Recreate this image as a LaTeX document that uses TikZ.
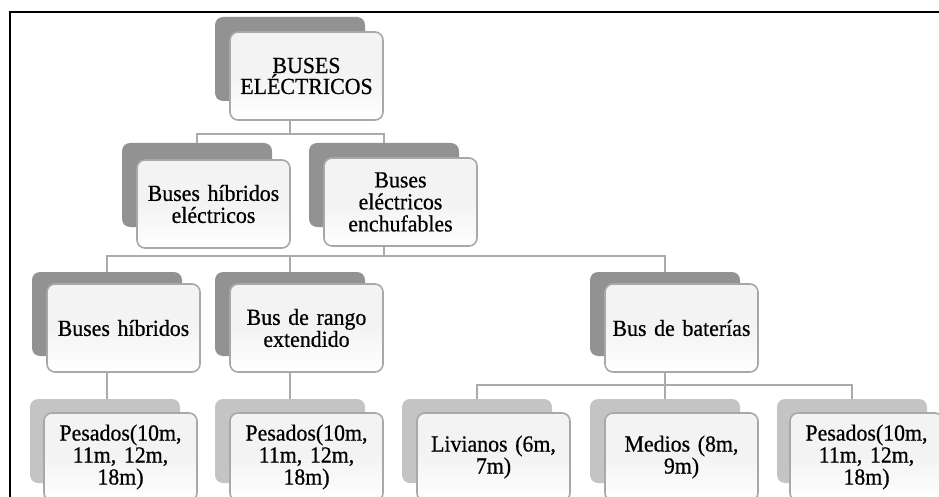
\documentclass[tikz,border=0pt]{standalone}
\usepackage{fontspec}
\setmainfont{Liberation Serif}
\newfontfamily\boxfont[FakeBold=0.6,FakeStretch=0.95]{Liberation Serif}
\definecolor{backdark}{HTML}{929292}
\definecolor{backlight}{HTML}{C4C4C4}
\definecolor{frontedge}{HTML}{A8A8A8}
\definecolor{frontfill}{HTML}{F3F3F3}
\definecolor{linkgray}{HTML}{ABABAB}
\tikzset{
  backbox/.style={rectangle, rounded corners=8pt, minimum width=150pt, minimum height=84pt, inner sep=0pt, fill=backdark},
  backboxlight/.style={backbox, fill=backlight},
  frontbox/.style={rectangle, rounded corners=8pt, minimum width=153pt, minimum height=88pt, inner sep=2pt,
     draw=frontedge, line width=1.6pt, top color=frontfill, bottom color=white, middle color=frontfill,
     align=center, text width=148pt, font=\boxfont\fontsize{23}{22}\selectfont},
  link/.style={draw=linkgray, line width=1.6pt},
  frame/.style={draw=black, line width=2pt}
}
\begin{document}
\begin{tikzpicture}[x=1pt,y=-1pt]
\useasboundingbox (0,0) rectangle (939,497);
\clip (0,0) rectangle (939,497);
% level 1
\node[backbox] (rootb) at (290,59) {};
\node[frontbox, font=\boxfont\fontsize{23}{17}\selectfont] (root) at (306.5,76) {BUSES\\ELÉCTRICOS};
% level 2
\node[backbox] (hybb) at (197,185) {};
\node[frontbox] (hyb) at (213.5,204) {Buses híbridos\\eléctricos};
\node[backbox] (plugb) at (384,185) {};
\node[frontbox] (plug) at (400.5,202) {Buses\\eléctricos\\enchufables};
% level 3
\node[backbox] (bhb) at (107,314) {};
\node[frontbox] (bh) at (123.5,328) {Buses híbridos};
\node[backbox] (rangeb) at (290,314) {};
\node[frontbox] (range) at (306.5,328) {Bus de rango\\extendido};
\node[backbox] (batb) at (665,314) {};
\node[frontbox] (bat) at (681.5,328) {Bus de baterías};
% level 4
\node[backboxlight] (p1b) at (105,441) {};
\node[frontbox] (p1) at (120.5,457) {Pesados(10m,\\11m, 12m,\\18m)};
\node[backboxlight] (p2b) at (290,441) {};
\node[frontbox] (p2) at (306.5,457) {Pesados(10m,\\11m, 12m,\\18m)};
\node[backboxlight] (livb) at (477,441) {};
\node[frontbox] (liv) at (493.5,457) {Livianos (6m,\\7m)};
\node[backboxlight] (medb) at (665,441) {};
\node[frontbox] (med) at (681.5,457) {Medios (8m,\\9m)};
\node[backboxlight] (p3b) at (852,441) {};
\node[frontbox] (p3) at (866.5,457) {Pesados(10m,\\11m, 12m,\\18m)};
% connectors level 1 -> 2
\draw[link] (rootb |- root.south) -- ++(0,13) -| (hybb.north);
\draw[link] (rootb |- root.south) -- ++(0,13) -| (plugb.north);
% level 2 -> 3
\draw[link] (plugb |- plug.south) -- ++(0,9) -| (bhb.north);
\draw[link] (plugb |- plug.south) -- ++(0,9) -| (rangeb.north);
\draw[link] (plugb |- plug.south) -- ++(0,9) -| (batb.north);
% level 3 -> 4
\draw[link] (bhb |- bh.south) -- (bhb |- p1b.north);
\draw[link] (rangeb |- range.south) -- (p2b.north);
\draw[link] (batb |- bat.south) -- ++(0,12) -| (livb.north);
\draw[link] (batb |- bat.south) -- ++(0,12) -| (medb.north);
\draw[link] (batb |- bat.south) -- ++(0,12) -| (p3b.north);
% frame
\draw[frame] (10,497) -- (10,12) -- (939,12);
\end{tikzpicture}
\end{document}
